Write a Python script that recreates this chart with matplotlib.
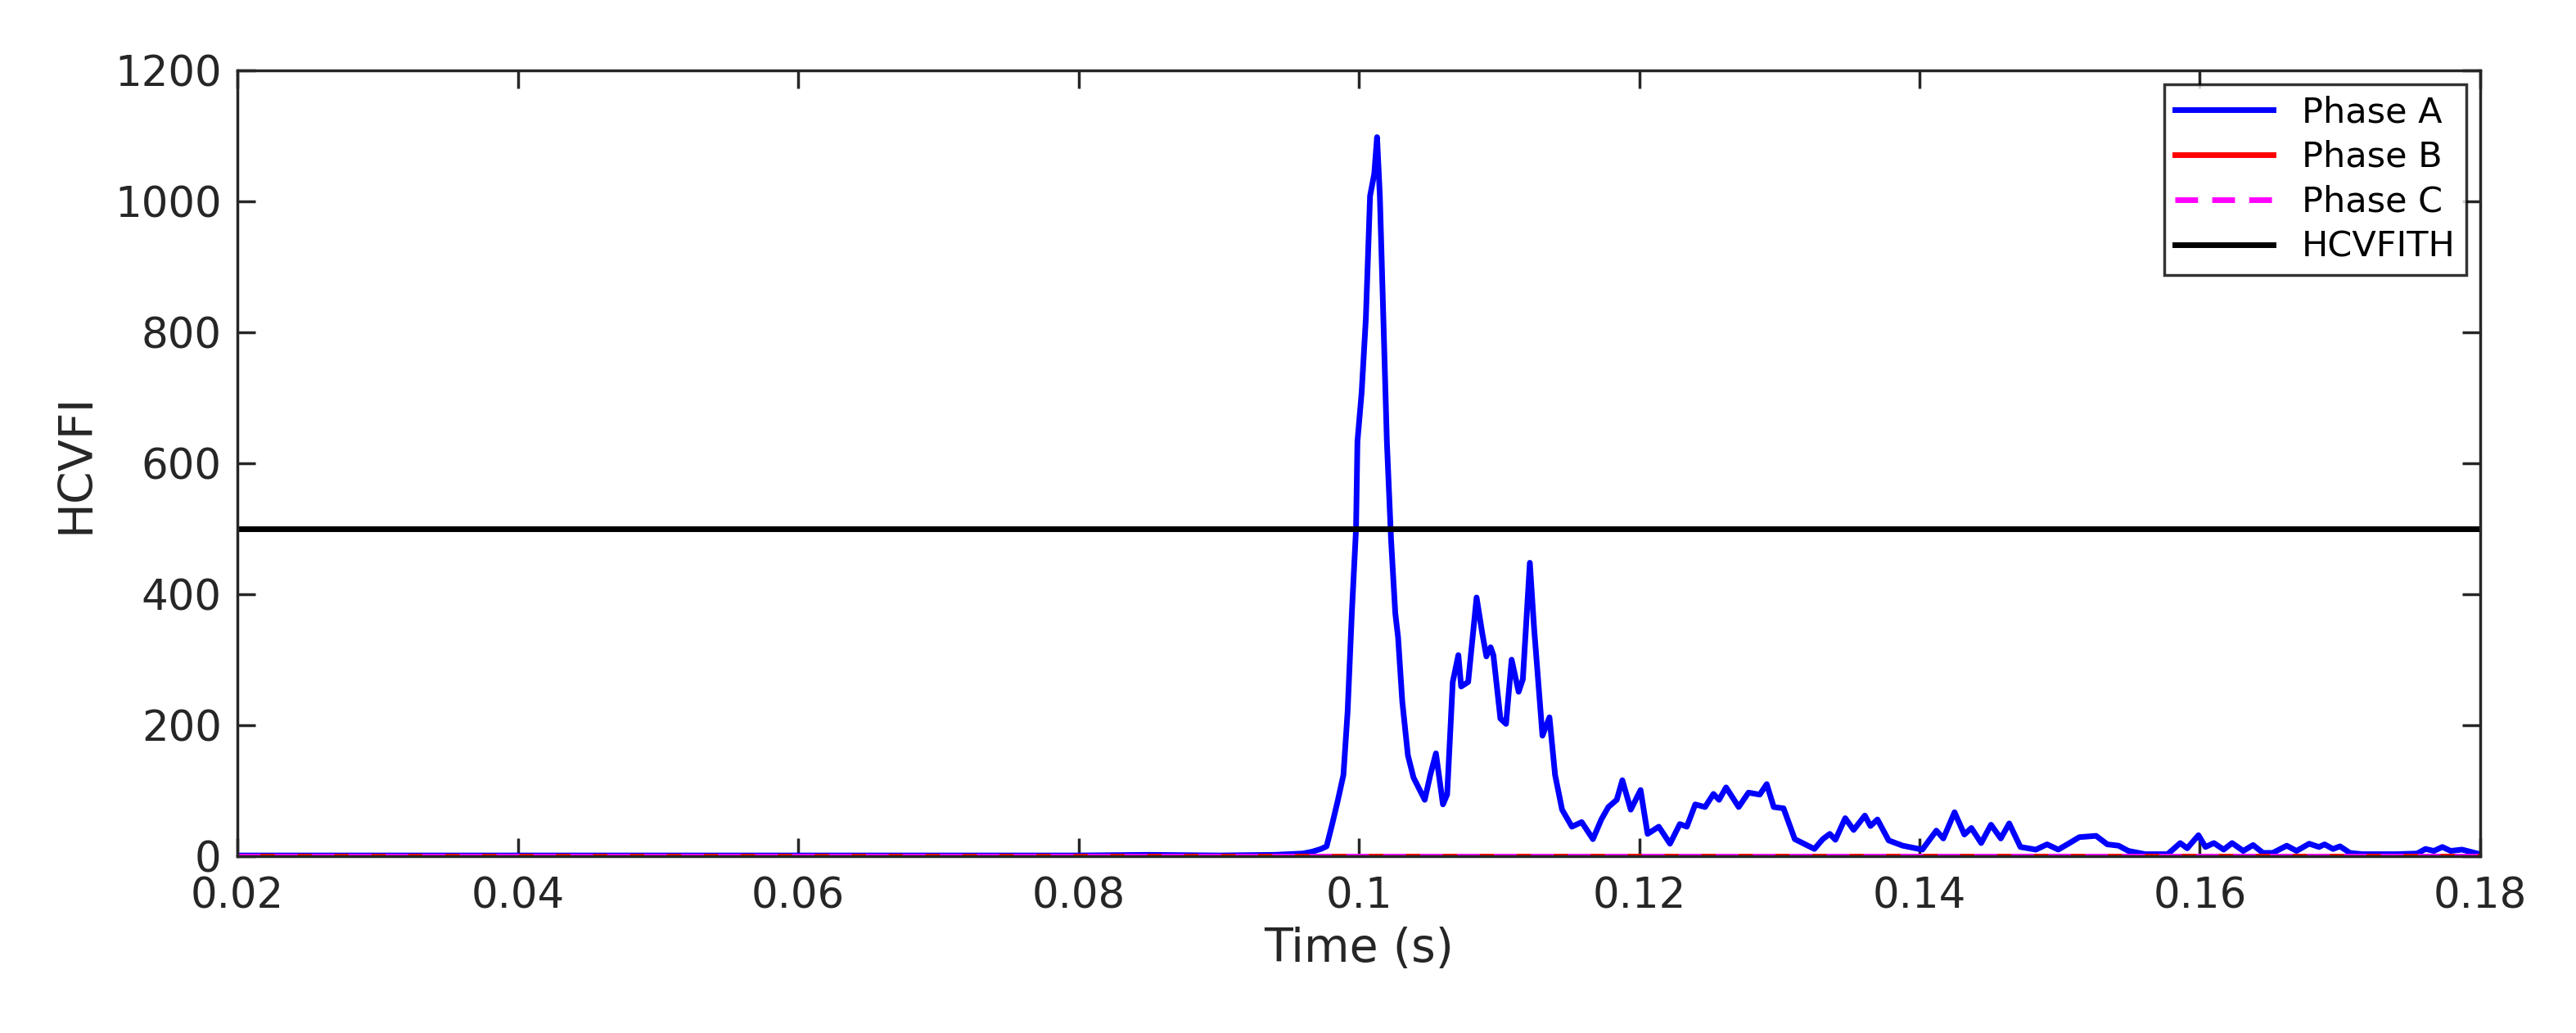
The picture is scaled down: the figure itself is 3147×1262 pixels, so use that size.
import matplotlib
matplotlib.use("Agg")
import matplotlib.pyplot as plt
import numpy as np

# Phase A HCVFI samples (time s, value)
t_a = [0.020, 0.030, 0.040, 0.050, 0.060, 0.070, 0.080, 0.085, 0.090, 0.094, 0.0960, 0.0967, 0.0973, 0.0977,
       0.0981, 0.0985, 0.0989, 0.0992, 0.0995, 0.0998, 0.0999, 0.1002, 0.1005, 0.1008, 0.1011, 0.1013, 0.1015,
       0.1018, 0.1020, 0.1023, 0.1026, 0.1028, 0.1031, 0.1035, 0.1039, 0.1047, 0.1051, 0.1055, 0.1060,
       0.1063, 0.1067, 0.1071, 0.1073, 0.1078, 0.1084, 0.1088, 0.1091, 0.1094, 0.1096, 0.1101, 0.1105,
       0.1109, 0.1114, 0.1117, 0.1122, 0.1125, 0.1131, 0.1136, 0.1140, 0.1145, 0.1152, 0.1159, 0.1167,
       0.1173, 0.1178, 0.1184, 0.1188, 0.1194, 0.1201, 0.1206, 0.1214, 0.1222, 0.1229, 0.1234, 0.1240,
       0.1247, 0.1253, 0.1257, 0.1262, 0.1271, 0.1278, 0.1286, 0.1291, 0.1296, 0.1303, 0.1311, 0.1325,
       0.1331, 0.1336, 0.1340, 0.1347, 0.1353, 0.1361, 0.1365, 0.1370, 0.1378, 0.1388, 0.1402, 0.1412,
       0.1417, 0.1425, 0.1432, 0.1437, 0.1444, 0.1451, 0.1458, 0.1464, 0.1472, 0.1483, 0.1491, 0.1499,
       0.1507, 0.1514, 0.1526, 0.1534, 0.1542, 0.1549, 0.1561, 0.1577, 0.1586, 0.1591, 0.1599, 0.1604,
       0.1610, 0.1617, 0.1623, 0.1631, 0.1638, 0.1645, 0.1652, 0.1662, 0.1669, 0.1678, 0.1685, 0.1689,
       0.1695, 0.1700, 0.1707, 0.1716, 0.1740, 0.1755, 0.1761, 0.1767, 0.1773, 0.1779, 0.1787, 0.1798]
v_a = [1, 1, 1, 1, 1, 1, 1, 2, 1, 2, 4, 7, 11, 15,
       49, 85, 124, 221, 371, 500, 633, 708, 821, 1008, 1042, 1098, 1008,
       783, 633, 483, 371, 334, 236, 154, 120, 86, 124, 157, 79,
       94, 266, 307, 259, 266, 395, 341, 305, 319, 307, 210, 202,
       300, 251, 270, 448, 349, 184, 212, 124, 71, 45, 52, 26,
       56, 75, 86, 116, 71, 101, 34, 45, 19, 49, 45, 79,
       75, 95, 86, 105, 75, 97, 94, 110, 75, 73, 26, 11,
       26, 34, 25, 58, 40, 62, 46, 56, 24, 16, 10, 39,
       27, 67, 33, 43, 20, 48, 27, 50, 14, 10, 18, 10,
       20, 29, 31, 18, 16, 8, 3, 3, 20, 12, 32, 14,
       20, 10, 20, 8, 17, 5, 5, 16, 8, 19, 14, 18,
       11, 15, 5, 3, 3, 4, 11, 8, 14, 8, 10, 4]
t_bc = [0.02, 0.18]
v_b = [0, 0]
v_c = [0, 0]
threshold = 500

fig = plt.figure(figsize=(31.47, 12.62), dpi=100)
ax = fig.add_axes([0.0922, 0.1712, 0.8706, 0.7607])
ax.plot(t_a, v_a, color='#0000ff', lw=5, label='Phase A')
ax.plot(t_bc, v_b, color='#ff0000', lw=5, label='Phase B')
ax.plot(t_bc, v_c, color='#ff00ff', lw=5, ls=(0, (4, 2.5)), label='Phase C')
ax.axhline(threshold, color='black', lw=5, label='HCVFITH')
ax.set_xlim(0.02, 0.18)
ax.set_ylim(0, 1200)
ax.set_xticks(np.arange(0.02, 0.1801, 0.02))
ax.set_xticklabels(['0.02', '0.04', '0.06', '0.08', '0.1', '0.12', '0.14', '0.16', '0.18'])
ax.set_yticks(np.arange(0, 1201, 200))
ax.tick_params(labelsize=37, direction='in', length=16, width=2.5, top=True, right=True, colors='#262626')
ax.tick_params(axis='x', pad=18)
ax.tick_params(axis='y', pad=14)
for s in ax.spines.values():
    s.set_linewidth(2.5)
    s.set_color('#262626')
ax.set_xlabel('Time (s)', fontsize=41, color='#262626', labelpad=8)
ax.set_ylabel('HCVFI', fontsize=41, color='#262626', labelpad=14)
leg = ax.legend(loc='upper right', fontsize=31, frameon=True, fancybox=False, edgecolor='black',
                handlelength=2.8, borderaxespad=0.4, labelspacing=0.3, borderpad=0.3)
leg.get_frame().set_linewidth(2.5)
fig.savefig('out.png', dpi=100)
